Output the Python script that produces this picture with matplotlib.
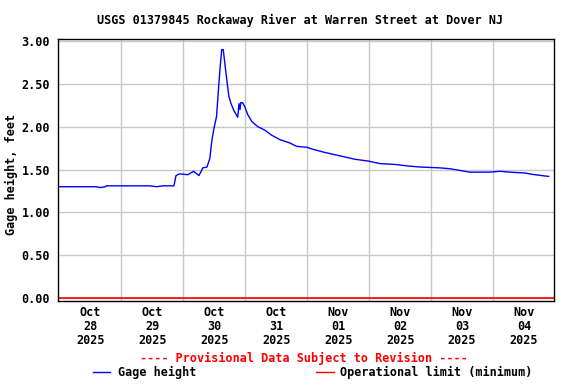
import matplotlib
matplotlib.use("Agg")
import matplotlib.pyplot as plt
import numpy as np
from datetime import datetime, timedelta

# Data: hours since 2025-10-28 00:00 and gage height (ft)
hours = [0.0, 14.2, 15.8, 17.9, 18.1, 35.1, 37.8, 40.1, 44.4, 45.2, 46.6, 49.8,
         52.0, 54.1, 55.6, 57.2, 58.3, 59.1, 59.9, 60.9, 61.4, 62.2, 62.9, 63.5,
         64.1, 64.9, 65.7, 66.5, 67.6, 69.1, 69.6, 70.0, 70.3, 71.0, 71.9, 73.0,
         74.6, 76.9, 79.6, 82.3, 85.4, 89.3, 92.0, 95.9, 97.8, 102.8, 108.7,
         114.5, 119.5, 124.1, 129.9, 135.7, 139.6, 147.3, 151.2, 155.1, 159.0,
         166.7, 170.6, 174.4, 180.3, 184.1, 189.5]
gage = [1.30, 1.30, 1.29, 1.30, 1.31, 1.31, 1.30, 1.31, 1.31, 1.43, 1.45, 1.44,
        1.48, 1.43, 1.52, 1.53, 1.63, 1.84, 1.98, 2.12, 2.33, 2.66, 2.90, 2.90,
        2.74, 2.54, 2.35, 2.27, 2.19, 2.11, 2.27, 2.20, 2.28, 2.28, 2.23, 2.14,
        2.06, 2.00, 1.96, 1.90, 1.85, 1.81, 1.77, 1.76, 1.74, 1.70, 1.66,
        1.62, 1.60, 1.57, 1.56, 1.54, 1.53, 1.52, 1.51, 1.49, 1.47,
        1.47, 1.48, 1.47, 1.46, 1.44, 1.42]
op_limit = 0.0
yticks = [0.0, 0.5, 1.0, 1.5, 2.0, 2.5, 3.0]
day_labels = ["Oct\n28\n2025", "Oct\n29\n2025", "Oct\n30\n2025", "Oct\n31\n2025",
              "Nov\n01\n2025", "Nov\n02\n2025", "Nov\n03\n2025", "Nov\n04\n2025"]

start = datetime(2025, 10, 28)
times = [start + timedelta(hours=h) for h in hours]

font = "DejaVu Sans Mono"
fs = 8.5
plt.rcParams['font.family'] = font
plt.rcParams['font.weight'] = 'bold'

fig = plt.figure(figsize=(5.76, 3.84), dpi=100)
ax = fig.add_axes([0.1012, 0.2169, 0.8606, 0.6808])

ax.plot(times, gage, color="#0000ff", lw=1.0)
xmin = start - timedelta(minutes=23)
xmax = start + timedelta(days=7, hours=23, minutes=35)
ax.axhline(op_limit, color="#ff0000", lw=1.2)

ax.set_xlim(xmin, xmax)
ax.set_ylim(-0.03, 3.02)

ax.set_yticks(yticks)
ax.set_yticklabels([f"{v:.2f}" for v in yticks], fontsize=fs, fontweight='bold')

gridpos = [start + timedelta(days=d) for d in range(1, 8)]
for g in gridpos:
    ax.axvline(g, color="#c8c8c8", lw=1.0, zorder=0)
for v in yticks:
    ax.axhline(v, color="#c8c8c8", lw=1.0, zorder=0)

ax.set_xticks([start + timedelta(days=d, hours=12) for d in range(8)])
ax.set_xticklabels(day_labels, fontsize=fs, fontweight='bold', linespacing=1.08)
ax.tick_params(axis='both', length=0, pad=6)
ax.tick_params(axis='x', pad=4)

for s in ax.spines.values():
    s.set_color("black")
    s.set_linewidth(1.0)

ax.set_ylabel("Gage height, feet", fontsize=fs, fontweight='bold')
ax.yaxis.set_label_coords((18 - 58.3) / 496, (300.7 - 174) / 261.4)

fig.text(300/576, 1 - 20/384, "USGS 01379845 Rockaway River at Warren Street at Dover NJ",
         ha='center', va='center', fontsize=fs, fontweight='bold')
fig.text(304/576, 1 - 358/384, "---- Provisional Data Subject to Revision ----",
         ha='center', va='center', fontsize=fs, fontweight='bold', color="#ff0000")

# legend
fig.add_artist(plt.Line2D([93/576, 110/576], [1 - 372/384]*2, color="#0000ff", lw=1.0))
fig.text(118/576, 1 - 372/384, "Gage height", ha='left', va='center', fontsize=fs, fontweight='bold')
fig.add_artist(plt.Line2D([316/576, 334/576], [1 - 372/384]*2, color="#ff0000", lw=1.0))
fig.text(340/576, 1 - 372/384, "Operational limit (minimum)", ha='left', va='center',
         fontsize=fs, fontweight='bold')

fig.savefig("out.png", dpi=100)
